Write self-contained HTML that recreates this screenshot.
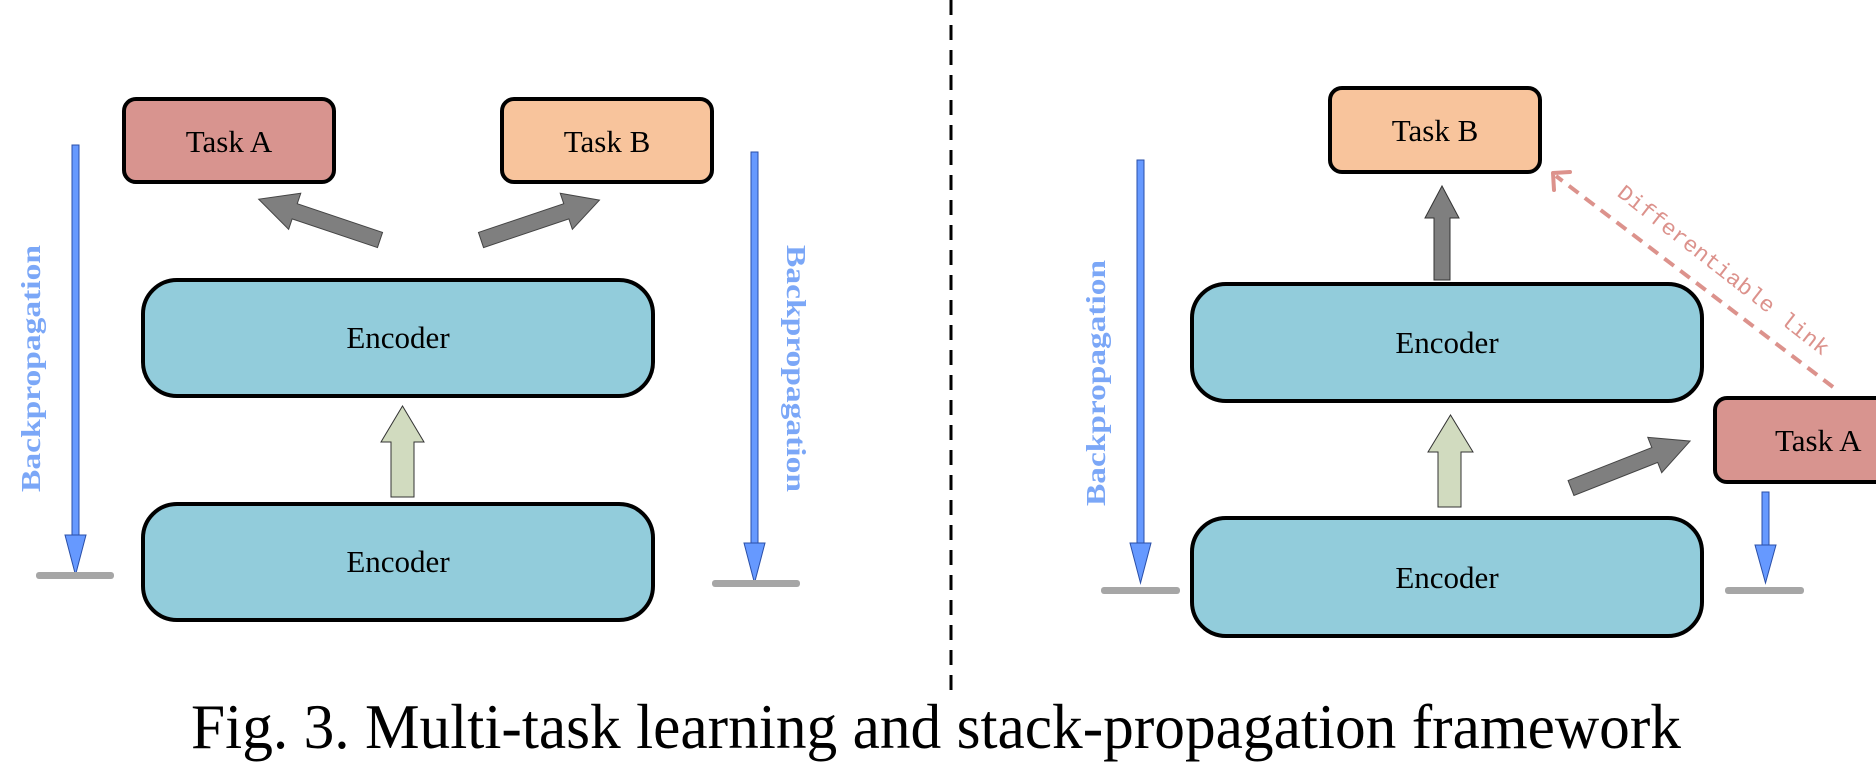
<!DOCTYPE html>
<html><head><meta charset="utf-8"><style>
html,body{margin:0;padding:0;background:#fff;}
svg{display:block;}
</style></head><body>
<svg width="1876" height="784" viewBox="0 0 1876 784" xmlns="http://www.w3.org/2000/svg">
<defs>
<style>
.t{font-family:"Liberation Serif",serif;font-size:31px;fill:#000;}
.bp{font-family:"Liberation Serif",serif;font-weight:bold;font-size:27px;fill:#7ba7f7;}
</style>
</defs>
<!-- dashed divider -->
<line x1="951" y1="0" x2="951" y2="690" stroke="#000" stroke-width="3" stroke-dasharray="15,10"/>

<!-- LEFT PANEL -->
<rect x="124" y="99" width="210" height="83" rx="12" fill="#d8948f" stroke="#000" stroke-width="4"/>
<text class="t" x="229" y="152" text-anchor="middle">Task A</text>
<rect x="502" y="99" width="210" height="83" rx="12" fill="#f8c49c" stroke="#000" stroke-width="4"/>
<text class="t" x="607" y="152" text-anchor="middle">Task B</text>

<rect x="143" y="280" width="510" height="116" rx="34" fill="#92ccdb" stroke="#000" stroke-width="4"/>
<text class="t" x="398" y="348" text-anchor="middle">Encoder</text>
<rect x="143" y="504" width="510" height="116" rx="34" fill="#92ccdb" stroke="#000" stroke-width="4"/>
<text class="t" x="398" y="572" text-anchor="middle">Encoder</text>

<!-- gray diagonal arrows -->
<g transform="translate(380,240) rotate(198.6)">
<polygon points="0,-8 90,-8 90,-19 128,0 90,19 90,8 0,8" fill="#7f7f7f" stroke="#444" stroke-width="1"/>
</g>
<g transform="translate(481,240) rotate(-18.6)">
<polygon points="0,-8 90,-8 90,-19 125,0 90,19 90,8 0,8" fill="#7f7f7f" stroke="#444" stroke-width="1"/>
</g>
<!-- green up arrow -->
<polygon points="391,497 391,442 381,442 402.5,406 424,442 414,442 414,497" fill="#d1dbbf" stroke="#333" stroke-width="1"/>

<!-- blue backprop arrows -->
<rect x="72" y="145" width="7" height="392" fill="#6699ff" stroke="#2a4fa8" stroke-width="1"/>
<polygon points="65,535 86,535 75.5,575" fill="#6699ff" stroke="#2a4fa8" stroke-width="1"/>
<rect x="36" y="572" width="78" height="7" rx="3" fill="#a6a6a6"/>
<rect x="751" y="152" width="7" height="393" fill="#6699ff" stroke="#2a4fa8" stroke-width="1"/>
<polygon points="744,543 765,543 754.5,583" fill="#6699ff" stroke="#2a4fa8" stroke-width="1"/>
<rect x="712" y="580" width="88" height="7" rx="3" fill="#a6a6a6"/>
<text class="bp" transform="translate(40,492) rotate(-90)" textLength="247" lengthAdjust="spacingAndGlyphs">Backpropagation</text>
<text class="bp" transform="translate(787,245) rotate(90)" textLength="247" lengthAdjust="spacingAndGlyphs">Backpropagation</text>

<!-- RIGHT PANEL -->
<rect x="1330" y="88" width="210" height="84" rx="12" fill="#f8c49c" stroke="#000" stroke-width="4"/>
<text class="t" x="1435" y="141" text-anchor="middle">Task B</text>
<rect x="1192" y="284" width="510" height="117" rx="34" fill="#92ccdb" stroke="#000" stroke-width="4"/>
<text class="t" x="1447" y="353" text-anchor="middle">Encoder</text>
<rect x="1192" y="518" width="510" height="118" rx="34" fill="#92ccdb" stroke="#000" stroke-width="4"/>
<text class="t" x="1447" y="588" text-anchor="middle">Encoder</text>
<rect x="1715" y="398" width="210" height="84" rx="12" fill="#d8948f" stroke="#000" stroke-width="4"/>
<text class="t" x="1775" y="451">Task A</text>

<!-- gray up arrow -->
<polygon points="1434,280 1434,218 1425,218 1442,186 1459,218 1450,218 1450,280" fill="#7f7f7f" stroke="#333" stroke-width="1"/>
<!-- green up arrow -->
<polygon points="1438,507 1438,452 1428,452 1450.5,415 1473,452 1461,452 1461,507" fill="#d1dbbf" stroke="#333" stroke-width="1"/>
<!-- gray diagonal -->
<g transform="translate(1571,488) rotate(-21.5)">
<polygon points="0,-8 90,-8 90,-19 128,0 90,19 90,8 0,8" fill="#7f7f7f" stroke="#444" stroke-width="1"/>
</g>

<!-- blue arrows -->
<rect x="1137" y="160" width="7" height="385" fill="#6699ff" stroke="#2a4fa8" stroke-width="1"/>
<polygon points="1130,543 1151,543 1140.5,583" fill="#6699ff" stroke="#2a4fa8" stroke-width="1"/>
<rect x="1101" y="587" width="79" height="7" rx="3" fill="#a6a6a6"/>
<text class="bp" transform="translate(1105,506) rotate(-90)" textLength="246" lengthAdjust="spacingAndGlyphs">Backpropagation</text>
<rect x="1762" y="492" width="7" height="55" fill="#6699ff" stroke="#2a4fa8" stroke-width="1"/>
<polygon points="1755,545 1776,545 1765.5,583" fill="#6699ff" stroke="#2a4fa8" stroke-width="1"/>
<rect x="1725" y="587" width="79" height="7" rx="3" fill="#a6a6a6"/>

<!-- differentiable link -->
<line x1="1833" y1="387" x2="1556" y2="176" stroke="#dc928c" stroke-width="4" stroke-dasharray="12,8"/>
<polyline points="1554,190 1553,173 1570,172" fill="none" stroke="#dc928c" stroke-width="4" stroke-linecap="round" stroke-linejoin="round"/>
<text transform="translate(1616,195) rotate(38)" font-family="Liberation Mono,monospace" font-size="22" fill="#dc928c" textLength="262" lengthAdjust="spacingAndGlyphs">Differentiable link</text>

<!-- caption -->
<text x="191" y="748" font-family="Liberation Serif,serif" font-size="64" fill="#000" textLength="1490" lengthAdjust="spacingAndGlyphs">Fig. 3. Multi-task learning and stack-propagation framework</text>
</svg>
</body></html>
